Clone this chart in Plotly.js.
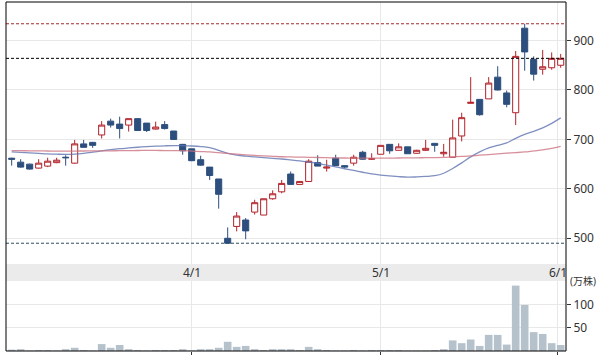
<!DOCTYPE html>
<html>
<head>
<meta charset="utf-8">
<script src="https://cdn.plot.ly/plotly-3.0.1.min.js"></script>
<style>html,body{margin:0;padding:0;background:#fff;}#chart{width:606px;height:359px;}</style>
</head>
<body>
<div id="chart"></div>
<script>
// trading-day index of each candle
const dayIndex = Array.from({length: 62}, (_, i) => i);
const opens  = [662,654,650,642,646,653,664,652,691,694,709,737,731,729,742,733,721,730,717,690,681,659,644,620,500,524,537,553,547,580,594,630,609,615,653,642,662,647,652,674,660,670,690,678,685,672,678,692,671,664,707,773,781,782,826,794,754,925,862,842,845,850];
const highs  = [663,660,651,660,663,663,668,699,699,695,737,742,746,742,743,733,736,737,717,691,681,667,644,620,522,553,541,578,580,597,618,635,615,660,668,659,669,648,669,677,672,688,690,692,685,679,699,693,691,740,754,826,781,826,848,799,879,934,868,881,876,873];
const lows   = [647,643,639,641,644,652,647,651,684,683,702,724,702,716,717,715,720,720,700,669,656,647,618,560,490,514,498,548,547,578,591,609,609,614,646,635,647,642,647,659,659,670,671,678,671,671,677,675,665,664,696,773,748,782,799,765,729,839,819,831,841,845];
const closes = [660,644,640,652,656,658,663,691,684,688,729,729,722,742,718,718,725,722,700,677,657,648,627,589,490,545,515,572,580,590,611,609,615,656,646,644,647,644,664,660,661,688,677,685,671,678,682,688,674,703,744,775,750,814,800,771,868,877,832,847,864,864];
const volumes = [3,4,1,2,2,1,4,7,2,1,15,7,13,4,2,1,2,2,2,4,1,4,4,7,20,9,11,4,2,4,4,4,2,9,4,2,1,1,2,1,2,2,2,2,1,1,1,2,4,23,17,25,11,35,35,14,142,100,41,37,17,13];
const maShort = [674.7,673.7,672.7,671.7,670.7,670.1,669.7,670.1,671.7,674.1,676.8,679.2,681.2,682.8,684.2,685.5,686.5,687.1,687.5,687.3,686.7,685.5,683.2,677.8,671.7,668.3,666.2,664.6,663.2,661.8,660.4,658.5,656.5,654.1,651.5,648.0,644.4,640.7,637.3,633.6,630.2,627.8,626.2,624.7,623.7,624.1,625.1,626.6,631.6,641.3,652.5,664.6,674.7,682.8,687.9,692.9,702.1,710.2,716.2,723.3,732.4,743.5];
const maLong = [677.4,677.2,677.0,676.8,676.6,676.4,676.4,676.5,676.6,676.7,676.8,677.0,677.2,677.4,677.6,677.8,677.7,677.5,677.3,677.2,676.4,675.5,674.7,673.1,671.7,670.1,668.7,667.6,666.6,665.8,665.0,664.6,664.2,663.8,663.4,663.0,662.6,662.4,662.2,662.0,662.0,662.0,662.2,662.4,662.6,662.8,663.0,663.2,663.6,664.6,665.6,666.6,668.1,669.3,670.7,672.1,673.3,674.7,676.8,678.8,681.8,685.9];
const tickVals = [20, 41, 60.7];
const tickLabels = ['4/1', '5/1', '6/1'];
const priceTicks = [500, 600, 700, 800, 900];
const volTicks = [50, 100];
const volUnit = '(万株)';

const maxHigh = Math.max(...highs);
const minLow = Math.min(...lows);
const lastClose = closes[closes.length - 1];

const font = {family: 'Noto Sans, Noto Sans CJK JP, sans-serif', size: 12, color: '#333'};

const traces = [
  {type: 'bar', x: dayIndex, y: volumes, xaxis: 'x', yaxis: 'y2',
   marker: {color: '#b6c2cb', line: {width: 0}}, hoverinfo: 'skip'},
  {type: 'scatter', mode: 'lines', x: dayIndex, y: maShort, xaxis: 'x', yaxis: 'y',
   line: {color: 'rgba(95,115,175,0.8)', width: 1.3, shape: 'spline'}, hoverinfo: 'skip'},
  {type: 'scatter', mode: 'lines', x: dayIndex, y: maLong, xaxis: 'x', yaxis: 'y',
   line: {color: 'rgba(205,115,130,0.8)', width: 1.3, shape: 'spline'}, hoverinfo: 'skip'},
  {type: 'candlestick', x: dayIndex, open: opens, high: highs, low: lows, close: closes,
   xaxis: 'x', yaxis: 'y', whiskerwidth: 0,
   increasing: {line: {color: '#b2222a', width: 1}, fillcolor: '#ffffff'},
   decreasing: {line: {color: '#2d4f7e', width: 1}, fillcolor: '#2d4f7e'},
   hoverinfo: 'skip'}
];

const bandLow = 70/349, bandHigh = 87/349;

const shapes = [
  {type: 'rect', xref: 'paper', yref: 'paper', x0: 0, x1: 1, y0: bandLow, y1: bandHigh,
   fillcolor: '#ebebeb', line: {width: 0}, layer: 'above'},
  {type: 'line', xref: 'paper', yref: 'y', x0: 0, x1: 1, y0: maxHigh, y1: maxHigh,
   line: {color: '#a52a2a', width: 1, dash: '3px,2px'}},
  {type: 'line', xref: 'paper', yref: 'y', x0: 0, x1: 1, y0: lastClose, y1: lastClose,
   line: {color: '#000000', width: 1, dash: '3px,2px'}},
  {type: 'line', xref: 'paper', yref: 'y', x0: 0, x1: 1, y0: minLow, y1: minLow,
   line: {color: '#2f4f5f', width: 1, dash: '3px,2px'}},
  {type: 'rect', xref: 'paper', yref: 'paper', x0: 0, x1: 1, y0: 0, y1: 1,
   line: {color: '#000000', width: 1}, fillcolor: 'rgba(0,0,0,0)', layer: 'above'}
];

const annotations = tickLabels.map((t, k) => ({
  text: t, x: tickVals[k], xref: 'x', y: (bandLow + bandHigh) / 2, yref: 'paper',
  showarrow: false, xanchor: 'center', yanchor: 'middle', font: font
}));
annotations.push({text: volUnit, xref: 'paper', x: 1, xanchor: 'left', xshift: 2,
  yref: 'paper', y: bandLow, yanchor: 'middle', yshift: 0, showarrow: false,
  font: {family: font.family, size: 10, color: '#333'}});

const layout = {
  width: 606, height: 359,
  margin: {l: 6, r: 40, t: 2, b: 8, pad: 0},
  paper_bgcolor: '#ffffff', plot_bgcolor: '#ffffff',
  showlegend: false, font: font,
  boxgap: 0.1, boxgroupgap: 0.25, bargap: 0.15,
  xaxis: {range: [-0.63, 61.59], anchor: 'y2', tickvals: tickVals, ticktext: tickLabels,
    showticklabels: false, ticks: 'outside', ticklen: 3, tickcolor: '#333',
    showgrid: true, gridcolor: '#e8e8e8', gridwidth: 1, zeroline: false,
    rangeslider: {visible: false}, fixedrange: true},
  yaxis: {domain: [bandHigh, 1], range: [448, 978], side: 'right', tickvals: priceTicks,
    ticks: 'outside', ticklen: 4, tickcolor: '#333', showgrid: true, gridcolor: '#e8e8e8',
    zeroline: false, tickfont: font, fixedrange: true},
  yaxis2: {domain: [0, bandLow], range: [0, 152], side: 'right', tickvals: volTicks,
    ticks: 'outside', ticklen: 4, tickcolor: '#333', showgrid: true, gridcolor: '#e8e8e8',
    zeroline: false, tickfont: font, fixedrange: true},
  shapes: shapes, annotations: annotations
};

Plotly.newPlot('chart', traces, layout, {staticPlot: true, displayModeBar: false});
</script>
</body>
</html>
